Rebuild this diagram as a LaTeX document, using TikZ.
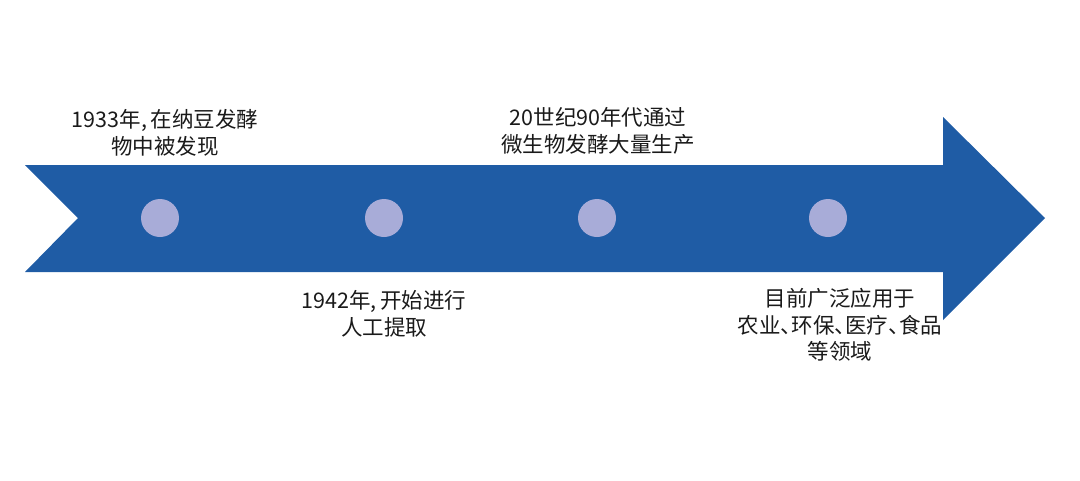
\documentclass[tikz,border=0pt]{standalone}
\usepackage{fontspec}
\setmainfont{Noto Sans CJK SC}[RawFeature=+halt]
\usepackage{tikz}

\definecolor{arrowblue}{HTML}{1F5CA5}
\definecolor{dotlilac}{HTML}{A8ACD8}
\definecolor{txtgray}{HTML}{1A1A1A}

\begin{document}
\begin{tikzpicture}[x=1pt, y=-1pt, every node/.style={font=\fontsize{21.5}{26.5}\selectfont, text=txtgray, align=center}]
  \useasboundingbox (0,0) rectangle (1080,480);
  \fill[arrowblue] (25,165) -- (943,165) -- (943,117) -- (1045,218) -- (943,320) -- (943,272) -- (25,272) -- (78,218) -- cycle;
  \node[circle, fill=dotlilac, minimum size=38pt, inner sep=0pt] (d1) at (160,218) {};
  \node[circle, fill=dotlilac, minimum size=38pt, inner sep=0pt] (d2) at (384,218) {};
  \node[circle, fill=dotlilac, minimum size=38pt, inner sep=0pt] (d3) at (597,218) {};
  \node[circle, fill=dotlilac, minimum size=38pt, inner sep=0pt] (d4) at (828,218) {};
  \node (t1) at (165,133) {1933年,\,在纳豆发酵\\物中被发现};
  \node (t2) at (384,314) {1942年,\,开始进行\\人工提取};
  \node (t3) at (598,131) {20世纪90年代通过\\微生物发酵大量生产};
  \node (t4) at (840,325) {目前广泛应用于\\农业、环保、医疗、食品\\等领域};
\end{tikzpicture}
\end{document}
